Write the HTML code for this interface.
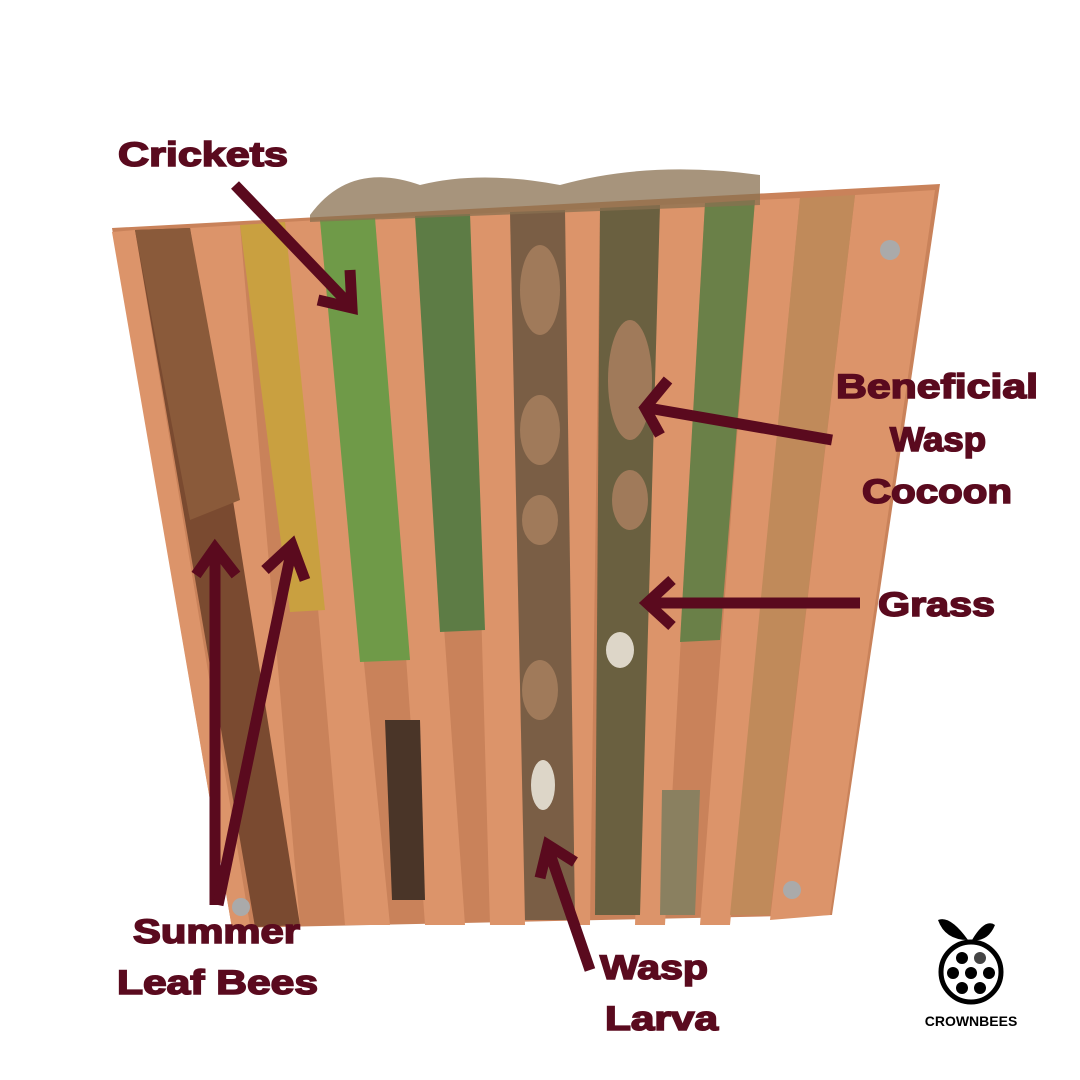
<!DOCTYPE html>
<html><head><meta charset="utf-8"><style>
html,body{margin:0;padding:0;background:#fff}
svg{display:block}
text{font-family:"Liberation Sans",sans-serif;font-weight:bold;fill:#5a0a1e;stroke:#5a0a1e;stroke-width:1.6}
</style></head><body>
<svg width="1080" height="1080" viewBox="0 0 1080 1080">
<rect width="1080" height="1080" fill="#fff"/>
<polygon points="112,228 940,184 832,915 232,928" fill="#c9825a"/>
<g fill="#dc946a">
<polygon points="190,228 240,225 300,925 270,925"/>
<polygon points="285,222 320,220 390,925 345,925"/>
<polygon points="375,218 415,216 465,925 425,925"/>
<polygon points="470,214 510,212 525,925 490,925"/>
<polygon points="565,210 600,208 590,925 570,925"/>
<polygon points="660,205 705,203 665,925 635,925"/>
<polygon points="755,200 800,198 730,925 700,925"/>
<polygon points="855,195 935,190 830,915 770,920"/>
<polygon points="112,232 135,230 250,925 232,928"/>
</g>
<polygon points="135,230 190,228 300,925 255,927" fill="#7a4a30"/>
<polygon points="135,230 190,228 240,500 190,520" fill="#8a5a3a"/>
<polygon points="240,225 285,222 325,610 290,612" fill="#c9a040"/>
<polygon points="320,220 375,218 410,660 360,662" fill="#6f9a48"/>
<polygon points="415,216 470,214 485,630 440,632" fill="#5d7c45"/>
<polygon points="510,212 565,210 575,920 525,920" fill="#7a5e45"/>
<polygon points="600,208 660,205 640,915 595,915" fill="#6a6040"/>
<polygon points="705,203 755,200 720,640 680,642" fill="#6a8048"/>
<polygon points="662,790 700,790 695,915 660,915" fill="#8a8060"/>
<polygon points="800,198 855,195 770,915 730,915" fill="#c08a5a"/>
<polygon points="385,720 420,720 425,900 392,900" fill="#4a3528"/>
<g fill="#a07a5a">
<ellipse cx="540" cy="290" rx="20" ry="45"/>
<ellipse cx="540" cy="430" rx="20" ry="35"/>
<ellipse cx="540" cy="520" rx="18" ry="25"/>
<ellipse cx="540" cy="690" rx="18" ry="30"/>
<ellipse cx="630" cy="380" rx="22" ry="60"/>
<ellipse cx="630" cy="500" rx="18" ry="30"/>
</g>
<ellipse cx="620" cy="650" rx="14" ry="18" fill="#ddd6c8"/>
<ellipse cx="543" cy="785" rx="12" ry="25" fill="#ddd6c8"/>
<path d="M310,215 Q350,160 420,185 Q480,170 560,185 Q650,160 760,175 L760,205 L310,222 Z" fill="#8a7050" opacity="0.75"/>
<circle cx="890" cy="250" r="10" fill="#aaa"/><circle cx="241" cy="907" r="9" fill="#aaa"/><circle cx="792" cy="890" r="9" fill="#aaa"/>
<g stroke="#5a0a1e" stroke-width="11" fill="none">
<line x1="235" y1="185" x2="350" y2="305"/>
<polyline points="318,300 352,308 350,270"/>
<line x1="832" y1="440" x2="648" y2="408"/>
<polyline points="668,380 645,408 660,435"/>
<line x1="860" y1="603" x2="648" y2="603"/>
<polyline points="672,580 647,603 672,626"/>
<line x1="590" y1="970" x2="548" y2="848"/>
<polyline points="540,878 548,845 575,862"/>
<line x1="215" y1="905" x2="215" y2="548"/>
<polyline points="196,575 215,548 236,575"/>
<line x1="218" y1="905" x2="292" y2="548"/>
<polyline points="265,570 292,545 305,580"/>
</g>
<g font-size="34">
<text x="118" y="166" textLength="170" lengthAdjust="spacingAndGlyphs">Crickets</text>
<text x="836" y="398" textLength="202" lengthAdjust="spacingAndGlyphs">Beneficial</text>
<text x="890" y="451" textLength="96" lengthAdjust="spacingAndGlyphs">Wasp</text>
<text x="862" y="503" textLength="150" lengthAdjust="spacingAndGlyphs">Cocoon</text>
<text x="878" y="616" textLength="117" lengthAdjust="spacingAndGlyphs">Grass</text>
<text x="133" y="943" textLength="167" lengthAdjust="spacingAndGlyphs">Summer</text>
<text x="117" y="994" textLength="201" lengthAdjust="spacingAndGlyphs">Leaf Bees</text>
<text x="600" y="979" textLength="108" lengthAdjust="spacingAndGlyphs">Wasp</text>
<text x="605" y="1030" textLength="113" lengthAdjust="spacingAndGlyphs">Larva</text>
</g>
<path d="M968,940 Q950,915 938,920 Q945,940 968,940Z" fill="#000"/>
<path d="M972,940 Q985,918 995,925 Q988,942 972,940Z" fill="#000"/>
<circle cx="971" cy="972" r="30" fill="#fff" stroke="#000" stroke-width="5"/>
<g fill="#000">
<circle cx="962" cy="958" r="6"/><circle cx="980" cy="958" r="6" fill="#444"/>
<circle cx="953" cy="973" r="6"/><circle cx="971" cy="973" r="6"/><circle cx="989" cy="973" r="6"/>
<circle cx="962" cy="988" r="6"/><circle cx="980" cy="988" r="6"/>
</g>
<text x="971" y="1026" font-size="14" text-anchor="middle" style="fill:#000;stroke:none">CROWNBEES</text>
</svg>
</body></html>
